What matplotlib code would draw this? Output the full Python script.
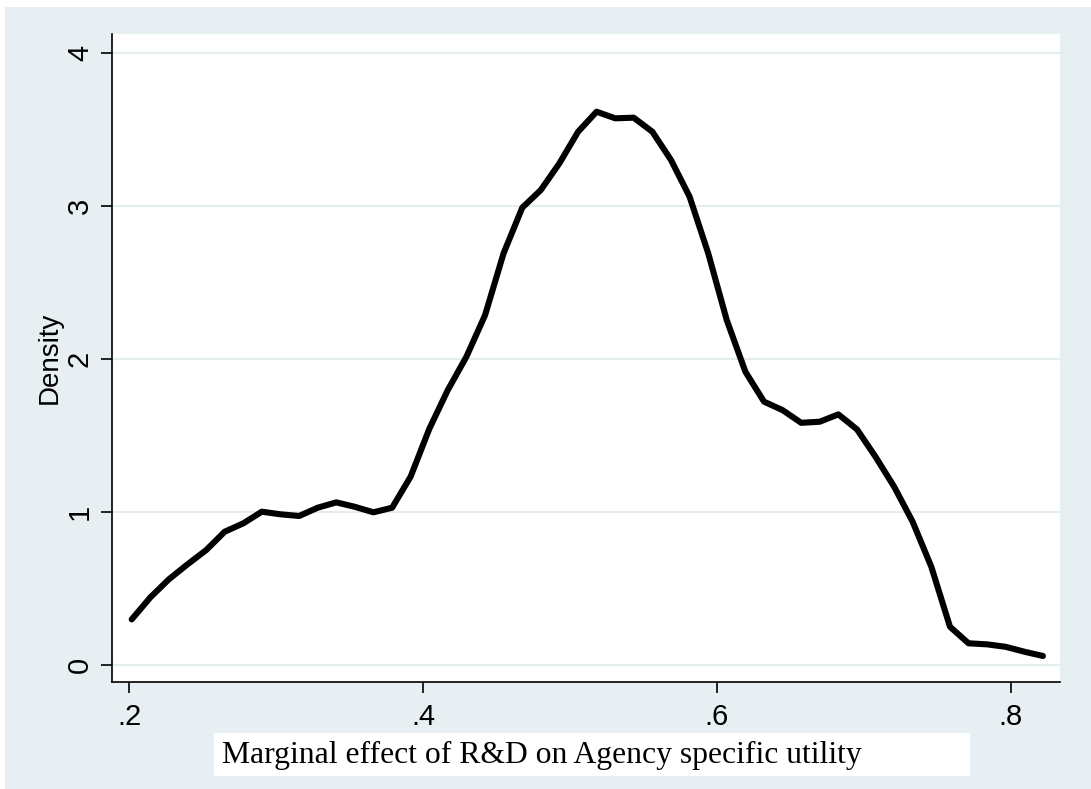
import matplotlib.pyplot as plt
from matplotlib.patches import Rectangle

# kernel density estimate
effect = [0.2016, 0.2143, 0.2269, 0.2396, 0.2523, 0.2649, 0.2776, 0.2902, 0.3029, 0.3156,
          0.3282, 0.3409, 0.3535, 0.3662, 0.3789, 0.3915, 0.4042, 0.4168, 0.4295, 0.4422,
          0.4548, 0.4675, 0.4801, 0.4928, 0.5055, 0.5181, 0.5308, 0.5434, 0.5561, 0.5688,
          0.5814, 0.5941, 0.6067, 0.6194, 0.6321, 0.6447, 0.6574, 0.6700, 0.6827, 0.6954,
          0.7080, 0.7207, 0.7333, 0.7460, 0.7587, 0.7713, 0.7840, 0.7966, 0.8093, 0.8220]
density = [0.295, 0.439, 0.557, 0.655, 0.748, 0.868, 0.923, 0.999, 0.982, 0.971,
           1.025, 1.060, 1.031, 0.995, 1.025, 1.228, 1.540, 1.794, 2.012, 2.284,
           2.688, 2.986, 3.101, 3.276, 3.482, 3.613, 3.570, 3.574, 3.482, 3.297,
           3.058, 2.688, 2.252, 1.914, 1.718, 1.663, 1.580, 1.587, 1.635, 1.537,
           1.358, 1.162, 0.933, 0.639, 0.247, 0.139, 0.132, 0.116, 0.084, 0.056]

xticks = [0.2, 0.4, 0.6, 0.8]
xtick_labels = [".2", ".4", ".6", ".8"]
yticks = [0, 1, 2, 3, 4]

bg = "#e8eff2"
grid = "#e4eded"
W, H = 1091, 789

fig = plt.figure(figsize=(W / 100, H / 100), dpi=100)
fig.patch.set_facecolor("white")
fig.patches.append(Rectangle((5 / W, 0), 1, 1 - 7 / H, transform=fig.transFigure,
                             facecolor=bg, edgecolor="none", zorder=-2))

ax = fig.add_axes([112 / W, 1 - 682 / H, (1060 - 112) / W, (682 - 34) / H])
ax.set_zorder(1)
ax.set_facecolor("white")
ax.plot(effect, density, color="black", lw=4.4, solid_joinstyle="round",
        solid_capstyle="round", zorder=3)

ax.set_xlim(0.1882, 0.8336)
ax.set_ylim(-0.114, 4.121)
for v in yticks:
    ax.axhline(v, color=grid, lw=1.5, zorder=1)

for s in ["top", "right"]:
    ax.spines[s].set_visible(False)
for s in ["left", "bottom"]:
    ax.spines[s].set_linewidth(1.2)

ax.set_xticks(xticks)
ax.set_xticklabels(xtick_labels)
ax.set_yticks(yticks)
ax.set_yticklabels([str(v) for v in yticks], rotation=90, va="center")
ax.tick_params(length=8, width=1.2, labelsize=21, pad=7)
ax.tick_params(axis="y", pad=5)
for t in ax.get_xticklabels() + ax.get_yticklabels():
    t.set_fontfamily("Liberation Sans")

ax.set_ylabel("Density", fontsize=20, fontfamily="Liberation Sans", labelpad=2)

fig.patches.append(Rectangle((214 / W, 1 - 776 / H), (970 - 214) / W, 43 / H,
                             transform=fig.transFigure, facecolor="white",
                             edgecolor="none", zorder=-1))
fig.text(222 / W, 1 - 763 / H, "Marginal effect of R&D on Agency specific utility",
         fontsize=22.8, fontfamily="Liberation Serif", ha="left", va="baseline", zorder=2)

fig.savefig("out.png", dpi=100)
